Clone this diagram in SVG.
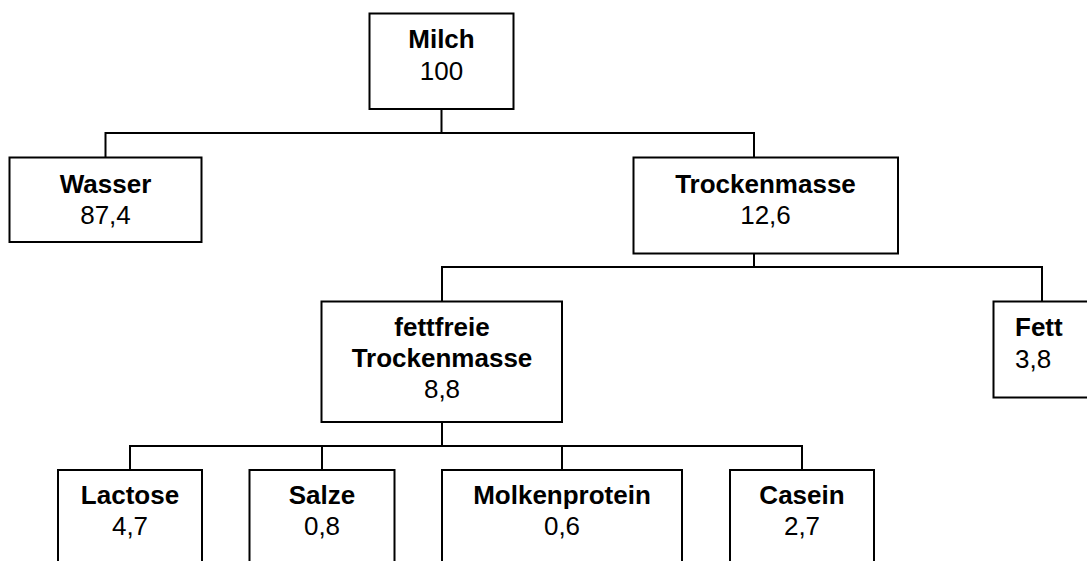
<svg xmlns="http://www.w3.org/2000/svg" width="1087" height="561" viewBox="0 0 1087 561">
  <style>
    .box { fill: #ffffff; stroke: #000000; stroke-width: 2; }
    .link { fill: none; stroke: #000000; stroke-width: 2; }
    text { font-family: "Liberation Sans", Arial, sans-serif; font-size: 26px; fill: #000000; text-anchor: middle; }
    .name { font-weight: bold; }
  </style>
  <rect width="1087" height="561" fill="#ffffff"/>

  <!-- tree connectors -->
  <g id="connectors">
    <path class="link" d="M441.5,109 V133 M105.5,157.5 V133 H754 V157.5"/>
    <path class="link" d="M754,253.5 V267 M442,301.5 V267 H1042 V301.5"/>
    <path class="link" d="M442,422 V446 M130,470 V446 H802 V470 M322,446 V470 M562,446 V470"/>
  </g>

  <g id="milch">
    <rect class="box" x="369.5" y="13.5" width="144" height="95.5"/>
    <text class="name" x="441.5" y="48">Milch</text>
    <text x="441.5" y="80">100</text>
  </g>

  <g id="wasser">
    <rect class="box" x="9.5" y="157.5" width="192" height="84.5"/>
    <text class="name" x="105.5" y="193">Wasser</text>
    <text x="105.5" y="224">87,4</text>
  </g>

  <g id="trockenmasse">
    <rect class="box" x="633.5" y="157.5" width="264.5" height="96"/>
    <text class="name" x="765.5" y="193">Trockenmasse</text>
    <text x="765.5" y="224">12,6</text>
  </g>

  <g id="fettfreie-trockenmasse">
    <rect class="box" x="321.5" y="301.5" width="240.5" height="120.5"/>
    <text class="name" x="442" y="336">fettfreie</text>
    <text class="name" x="442" y="367">Trockenmasse</text>
    <text x="442" y="398">8,8</text>
  </g>

  <g id="fett">
    <rect class="box" x="993.5" y="301.5" width="110" height="96"/>
    <text class="name" x="1015" y="336" style="text-anchor:start">Fett</text>
    <text x="1015" y="368" style="text-anchor:start">3,8</text>
  </g>

  <g id="lactose">
    <rect class="box" x="58" y="470" width="144" height="120"/>
    <text class="name" x="130" y="504">Lactose</text>
    <text x="130" y="535">4,7</text>
  </g>

  <g id="salze">
    <rect class="box" x="249.5" y="470" width="145" height="120"/>
    <text class="name" x="322" y="504">Salze</text>
    <text x="322" y="535">0,8</text>
  </g>

  <g id="molkenprotein">
    <rect class="box" x="442" y="470" width="240" height="120"/>
    <text class="name" x="562" y="504">Molkenprotein</text>
    <text x="562" y="535">0,6</text>
  </g>

  <g id="casein">
    <rect class="box" x="730" y="470" width="144" height="120"/>
    <text class="name" x="802" y="504">Casein</text>
    <text x="802" y="535">2,7</text>
  </g>
</svg>
